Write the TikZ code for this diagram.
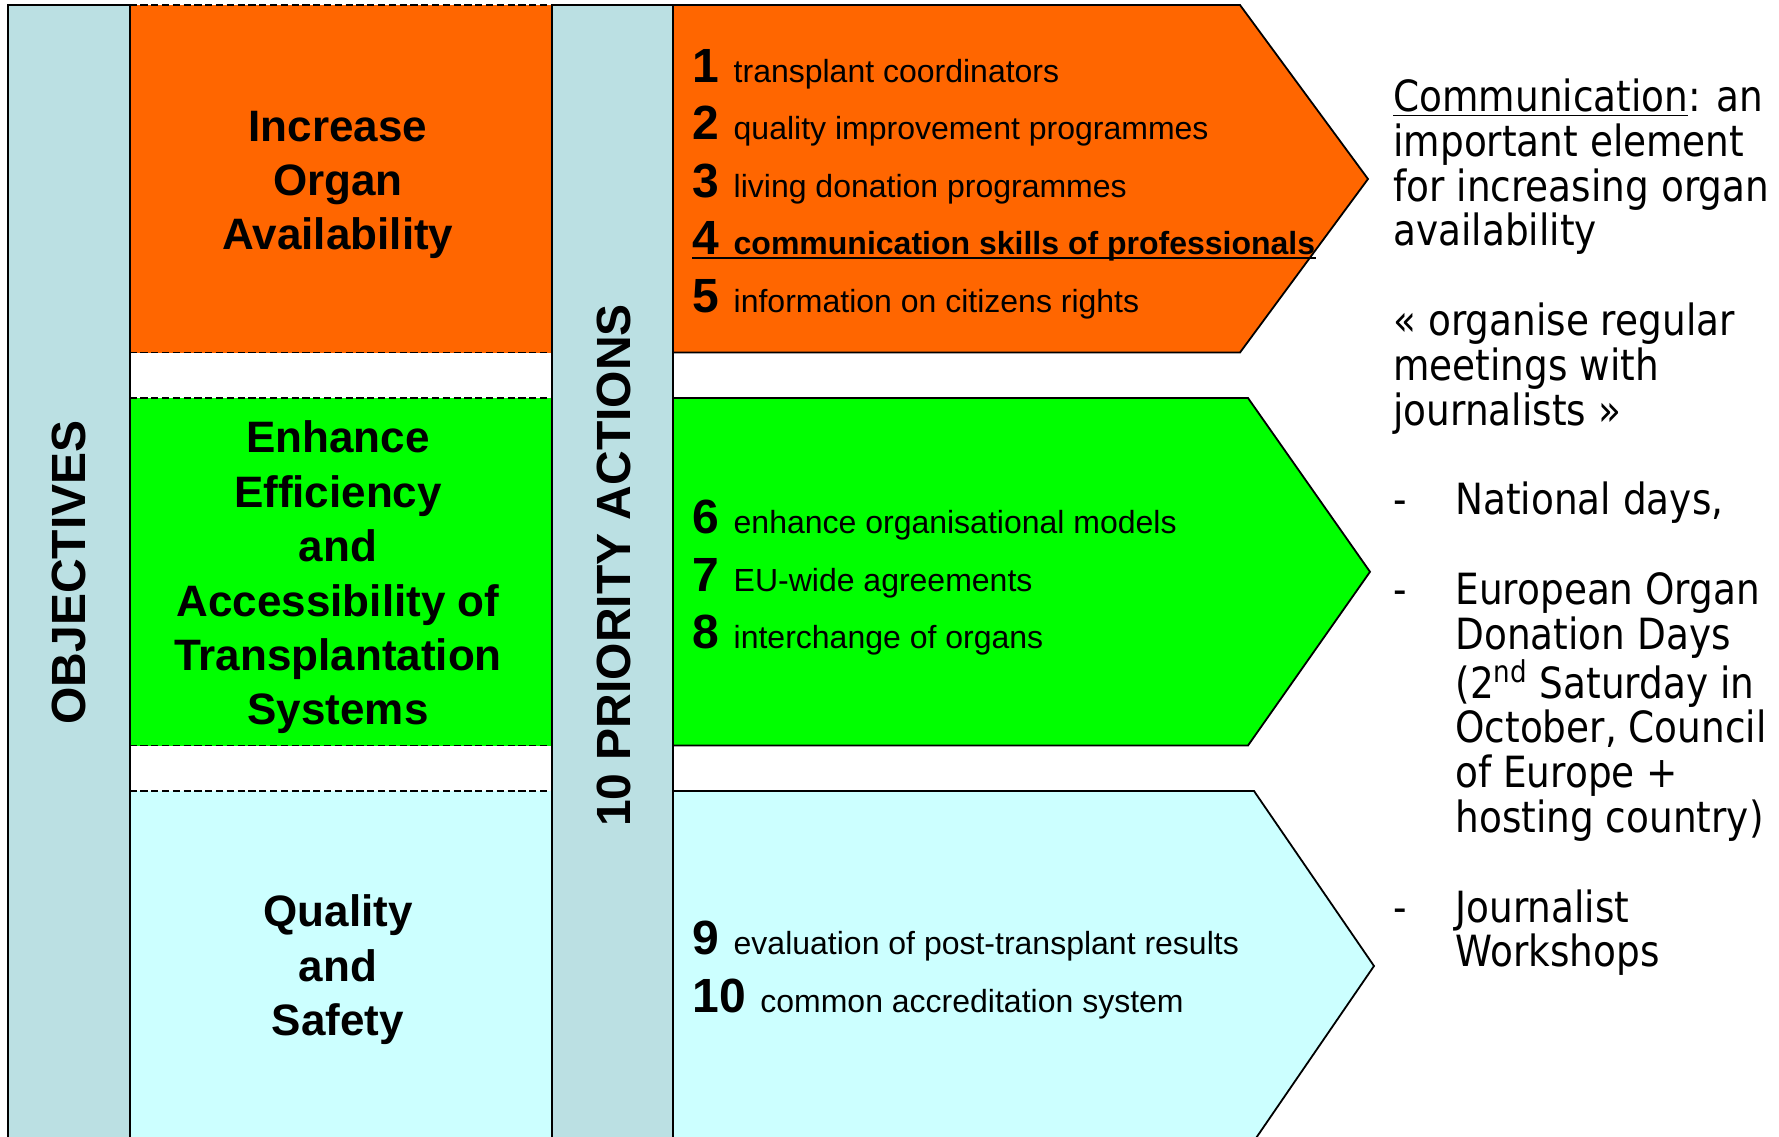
\documentclass[tikz,border=0pt]{standalone}
\usepackage{fontspec}
\setmainfont{Liberation Sans}
\newfontfamily\notefont[FakeStretch=0.87]{DejaVu Sans}
\usetikzlibrary{positioning}

\definecolor{barblue}{RGB}{187,224,227}
\definecolor{availorange}{RGB}{255,102,0}
\definecolor{effgreen}{RGB}{0,255,0}
\definecolor{safecyan}{RGB}{204,255,255}

\tikzstyle{bar} = [draw, line width=1pt, fill=barblue]
\tikzstyle{bandedge} = [line width=0.75pt, dash pattern=on 3.6pt off 1.8pt]
\tikzstyle{chevron} = [draw, line width=0.9pt, line join=miter]
\tikzstyle{objective} = [align=center, inner sep=0pt,
    font=\fontsize{22}{27.2}\selectfont\bfseries]
\tikzstyle{bartitle} = [rotate=90, inner sep=0pt,
    font=\fontsize{24}{28}\selectfont\bfseries]
\tikzstyle{action} = [anchor=base west, inner sep=0pt,
    font=\fontsize{16}{19}\selectfont]
\tikzstyle{note} = [anchor=north west, inner sep=0pt, align=left,
    font=\notefont\fontsize{21.5}{22.4}\selectfont]

\newcommand{\actno}[1]{{\fontsize{24}{24}\selectfont\bfseries #1}\hspace{7.3pt}}
\newcommand{\dashitem}{\makebox[31pt][l]{-}}
\newcommand{\dashpad}{\hspace*{31pt}}

\begin{document}
\begin{tikzpicture}[x=0.5pt, y=-0.5pt]
   \useasboundingbox (0,0) rectangle (1779,1136);
   \clip (0,0) rectangle (1779,1136);
   % Objective bands
    \fill [availorange] (129.5,5) rectangle (552,352.5);
    \fill [effgreen] (129.5,398) rectangle (552,745.5);
    \fill [safecyan] (129.5,791) rectangle (552,1145);
    \foreach \y in {5,352.5,398,745.5,791}
      \draw [bandedge] (129.5,\y) -- (552,\y);
   % Bars
    \draw [bar] (8,5) rectangle (129.5,1145);
    \draw [bar] (552,5) rectangle (673,1145);
   % Action chevrons
    \draw [chevron, fill=availorange] (673,5) -- (1240,5) -- (1368,179)
      -- (1240,352.5) -- (673,352.5) -- cycle;
    \draw [chevron, fill=effgreen] (673,398) -- (1248,398) -- (1370,571.8)
      -- (1248,745.5) -- (673,745.5) -- cycle;
    \draw [chevron, fill=safecyan] (673,791) -- (1254,791) -- (1374,966)
      -- (1254,1141) -- (673,1141) -- cycle;
   % Place nodes
    \node [bartitle] (objectives) at (69,572.4) {OBJECTIVES};
    \node [bartitle] (priority) at (614,565.6) {10 PRIORITY ACTIONS};
    \node [objective] (avail) at (338,185) {Increase\\Organ\\Availability};
    \node [objective] (effic) at (338,577.5)
      {Enhance\\Efficiency\\and\\Accessibility of\\Transplantation\\Systems};
    \node [objective] (safety) at (338,970) {Quality\\and\\Safety};
    \foreach \n/\y/\t in {1/82/transplant coordinators,
        2/139.5/quality improvement programmes,
        3/197/living donation programmes,
        4/254.5/\textbf{communication skills of professionals},
        5/312/information on citizens rights,
        6/533.5/enhance organisational models,
        7/591/EU-wide agreements,
        8/648/interchange of organs,
        9/954.5/evaluation of post-transplant results,
        10/1012/common accreditation system}
      \node [action] (act\n) at (692,\y) {\actno{\n}\t};
    \draw [line width=0.9pt] ([yshift=-1.8pt]act4.base west) -- ([yshift=-1.8pt]act4.base east);
    \node [note] (comm) at (1393,78.5) {\underline{Communication}: an\\important element\\
      for increasing organ\\availability\\[22.4pt]
      « organise regular\\meetings with\\journalists »\\[22.4pt]
      \dashitem National days,\\[22.4pt]
      \dashitem European Organ\\\dashpad Donation Days\\
      \dashpad (2\textsuperscript{nd} Saturday in\\\dashpad October, Council\\
      \dashpad of Europe +\\\dashpad hosting country)\\[22.4pt]
      \dashitem Journalist\\\dashpad Workshops};
\end{tikzpicture}
\end{document}
